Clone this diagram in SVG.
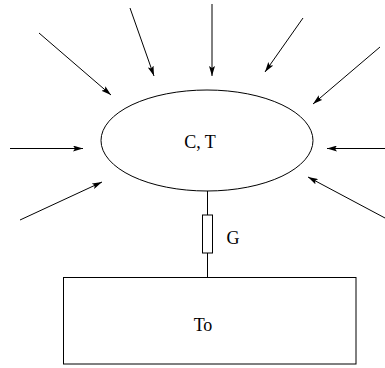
<svg xmlns="http://www.w3.org/2000/svg" width="385" height="368" viewBox="0 0 385 368">
<style>
.ln{stroke:#000;stroke-width:1;fill:none}
.ar{stroke:#000;stroke-width:1;fill:none;marker-end:url(#ah)}
.tx{font-family:"Liberation Serif","Times New Roman",serif;font-size:18px;fill:#000;text-anchor:middle}
</style>
<defs>
<marker id="ah" viewBox="0 0 10 6" refX="10" refY="3" markerWidth="10" markerHeight="6" markerUnits="userSpaceOnUse" orient="auto">
<path d="M0,0 L10,3 L0,6 L2,3 Z" fill="#000"/>
</marker>
</defs>
<rect width="385" height="368" fill="#fff"/>
<g id="connectors">
<line class="ar" x1="39" y1="33" x2="111" y2="95"/>
<line class="ar" x1="130" y1="8" x2="154" y2="76"/>
<line class="ar" x1="212" y1="4" x2="212" y2="76"/>
<line class="ar" x1="303" y1="18" x2="265" y2="72"/>
<line class="ar" x1="380" y1="47" x2="313" y2="104"/>
<line class="ar" x1="10" y1="148.5" x2="83" y2="148.5"/>
<line class="ar" x1="20" y1="220" x2="102" y2="182"/>
<line class="ar" x1="385" y1="148.5" x2="327" y2="148.5"/>
<line class="ar" x1="385" y1="218" x2="308" y2="177"/>
<line class="ln" x1="207.5" y1="191" x2="207.5" y2="215"/>
<line class="ln" x1="207.5" y1="253" x2="207.5" y2="278"/>
</g>
<g id="ct">
<ellipse class="ln" cx="207" cy="140.5" rx="106" ry="50.5"/>
<text class="tx" x="200" y="148">C, T</text>
</g>
<g id="g">
<rect class="ln" x="202.5" y="215" width="10" height="38"/>
<text class="tx" x="233" y="244">G</text>
</g>
<g id="to">
<rect class="ln" x="63.5" y="277.5" width="292.5" height="86.5"/>
<text class="tx" x="203" y="331">To</text>
</g>
</svg>
